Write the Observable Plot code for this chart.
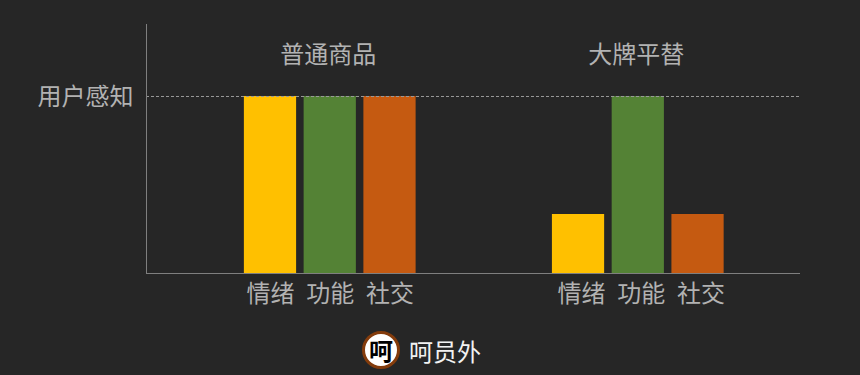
<!DOCTYPE html>
<html><head><meta charset="utf-8">
<script src="https://cdn.jsdelivr.net/npm/d3@7"></script>
<script src="https://cdn.jsdelivr.net/npm/@observablehq/plot@0.6"></script>
<style>
html,body{margin:0;padding:0;background:#262626;width:860px;height:375px;overflow:hidden}
#chart svg{display:block;background:#262626}
#footer{position:absolute;left:362px;top:330px;height:40px;display:flex;align-items:center;font-family:"Noto Sans CJK SC",sans-serif;color:#f2f2f2;font-size:24px}
#logo{box-sizing:border-box;width:38px;height:38px;border-radius:50%;background:#fff;border:3px solid #843c0c;color:#000;font-weight:700;font-size:24px;display:flex;align-items:center;justify-content:center;margin-right:9px;line-height:1}
</style></head><body>
<div id="chart"></div>
<div id="footer"><span id="logo">呵</span><span>呵员外</span></div>
<script>
const groups = ["普通商品", "大牌平替"];
const categories = ["情绪", "功能", "社交"];
const valuesA = [3, 3, 3];
const valuesB = [1, 3, 1];
const colors = ["#FFC000", "#548235", "#C55A11"];
const perceptionLabel = "用户感知";
const perceptionLevel = 3;

// x is measured in bar slots; the second group starts a little over five slots after the first.
const groupSpacing = 5.155;
const barHalf = 0.437;
const rows = [
  ...categories.map((c, i) => ({group: 0, category: c, slot: i, value: valuesA[i]})),
  ...categories.map((c, i) => ({group: 1, category: c, slot: groupSpacing + i, value: valuesB[i]}))
];
const titles = groups.map((g, i) => ({name: g, slot: i * groupSpacing + 1}));
const font = '"Noto Sans CJK SC", sans-serif';
const textColor = "#b2b2b2";
const labelStyle = {text: "category", y: 0, fontSize: 24, fill: textColor, lineAnchor: "middle"};
const chart = Plot.plot({
  width: 860, height: 331,
  marginLeft: 146, marginRight: 61, marginTop: 24, marginBottom: 58,
  style: {background: "#262626", fontFamily: font, color: textColor},
  x: {domain: [-2.075, 8.853], axis: null},
  y: {domain: [0, 4.22], label: null},
  color: {domain: categories, range: colors},
  marks: [
    Plot.rectY(rows, {x1: d => d.slot - barHalf, x2: d => d.slot + barHalf, y: "value", fill: "category"}),
    Plot.ruleY([perceptionLevel], {stroke: "#999999", strokeWidth: 1, strokeDasharray: "3 2"}),
    Plot.frame({anchor: "bottom", stroke: "#7f7f7f", strokeWidth: 1}),
    Plot.frame({anchor: "left", stroke: "#7f7f7f", strokeWidth: 1}),
    Plot.axisY({ticks: [perceptionLevel], tickSize: 0, tickPadding: 13, dy: 1, tickFormat: () => perceptionLabel, fontSize: 24, fill: textColor, label: null}),
    Plot.text(titles, {x: "slot", text: "name", frameAnchor: "top", dx: -2, dy: 31, fontSize: 24, fill: textColor, lineAnchor: "middle"}),
    Plot.text(rows.filter(d => d.group === 0), {x: "slot", dy: 21, ...labelStyle}),
    Plot.text(rows.filter(d => d.group === 1), {x: "slot", dx: 3, dy: 21, ...labelStyle})
  ]
});
document.getElementById("chart").append(chart);
</script>
</body></html>
